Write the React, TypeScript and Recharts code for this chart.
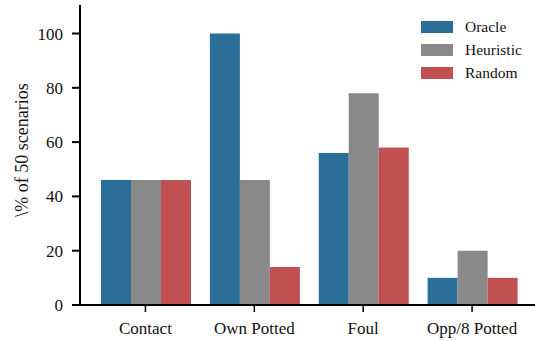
import { BarChart, Bar, XAxis, YAxis } from "recharts";

const categories = ["Contact", "Own Potted", "Foul", "Opp/8 Potted"];
const oracle = [46, 100, 56, 10];
const heuristic = [46, 46, 78, 20];
const random = [46, 14, 58, 10];
const yTicks = [0, 20, 40, 60, 80, 100];

const SERIES = [
  { key: "Oracle", color: "#2b6e97" },
  { key: "Heuristic", color: "#898989" },
  { key: "Random", color: "#c05150" },
];

const FONT = "'Liberation Serif', 'DejaVu Serif', serif";

const data = categories.map((name, i) => ({
  name,
  Oracle: oracle[i],
  Heuristic: heuristic[i],
  Random: random[i],
}));

// legend block, top right of the plot
function LegendBox() {
  return (
    <div
      style={{
        position: "absolute",
        left: 421,
        top: 15,
        fontFamily: FONT,
        fontSize: 15.5,
        color: "#111",
      }}
    >
      {SERIES.map((s) => (
        <div
          key={s.key}
          style={{ display: "flex", alignItems: "center", height: 23 }}
        >
          <span
            style={{
              display: "inline-block",
              width: 32,
              height: 12,
              background: s.color,
              marginRight: 12,
            }}
          />
          <span>{s.key}</span>
        </div>
      ))}
    </div>
  );
}

function YLabel() {
  return (
    <text
      x={28}
      y={150}
      transform="rotate(-90 28 150)"
      textAnchor="middle"
      fontFamily={FONT}
      fontSize={18}
      fill="#111"
    >
      \% of 50 scenarios
    </text>
  );
}

export default function App() {
  return (
    <div
      style={{
        position: "absolute",
        left: 0,
        top: 0,
        width: 535,
        height: 341,
        background: "#fff",
      }}
    >
      <BarChart
        width={535}
        height={341}
        data={data}
        margin={{ top: 5, right: 0, bottom: 0, left: 0 }}
        barCategoryGap={10}
        barGap={0}
      >
        <XAxis
          dataKey="name"
          height={36}
          padding={{ left: 11, right: 8.5 }}
          axisLine={{ stroke: "#000", strokeWidth: 2 }}
          tickLine={{ stroke: "#000", strokeWidth: 1.5 }}
          tickSize={7}
          tickMargin={10}
          tick={{ fontFamily: FONT, fontSize: 17, fill: "#111" }}
          interval={0}
        />
        <YAxis
          width={80}
          domain={[0, 110.5]}
          ticks={yTicks}
          allowDataOverflow
          axisLine={{ stroke: "#000", strokeWidth: 2 }}
          tickLine={{ stroke: "#000", strokeWidth: 2 }}
          tickSize={8}
          tickMargin={9}
          tick={{ fontFamily: FONT, fontSize: 17, fill: "#111" }}
          label={<YLabel />}
        />
        {SERIES.map((s) => (
          <Bar
            key={s.key}
            dataKey={s.key}
            fill={s.color}
            isAnimationActive={false}
          />
        ))}
      </BarChart>
      <LegendBox />
    </div>
  );
}
